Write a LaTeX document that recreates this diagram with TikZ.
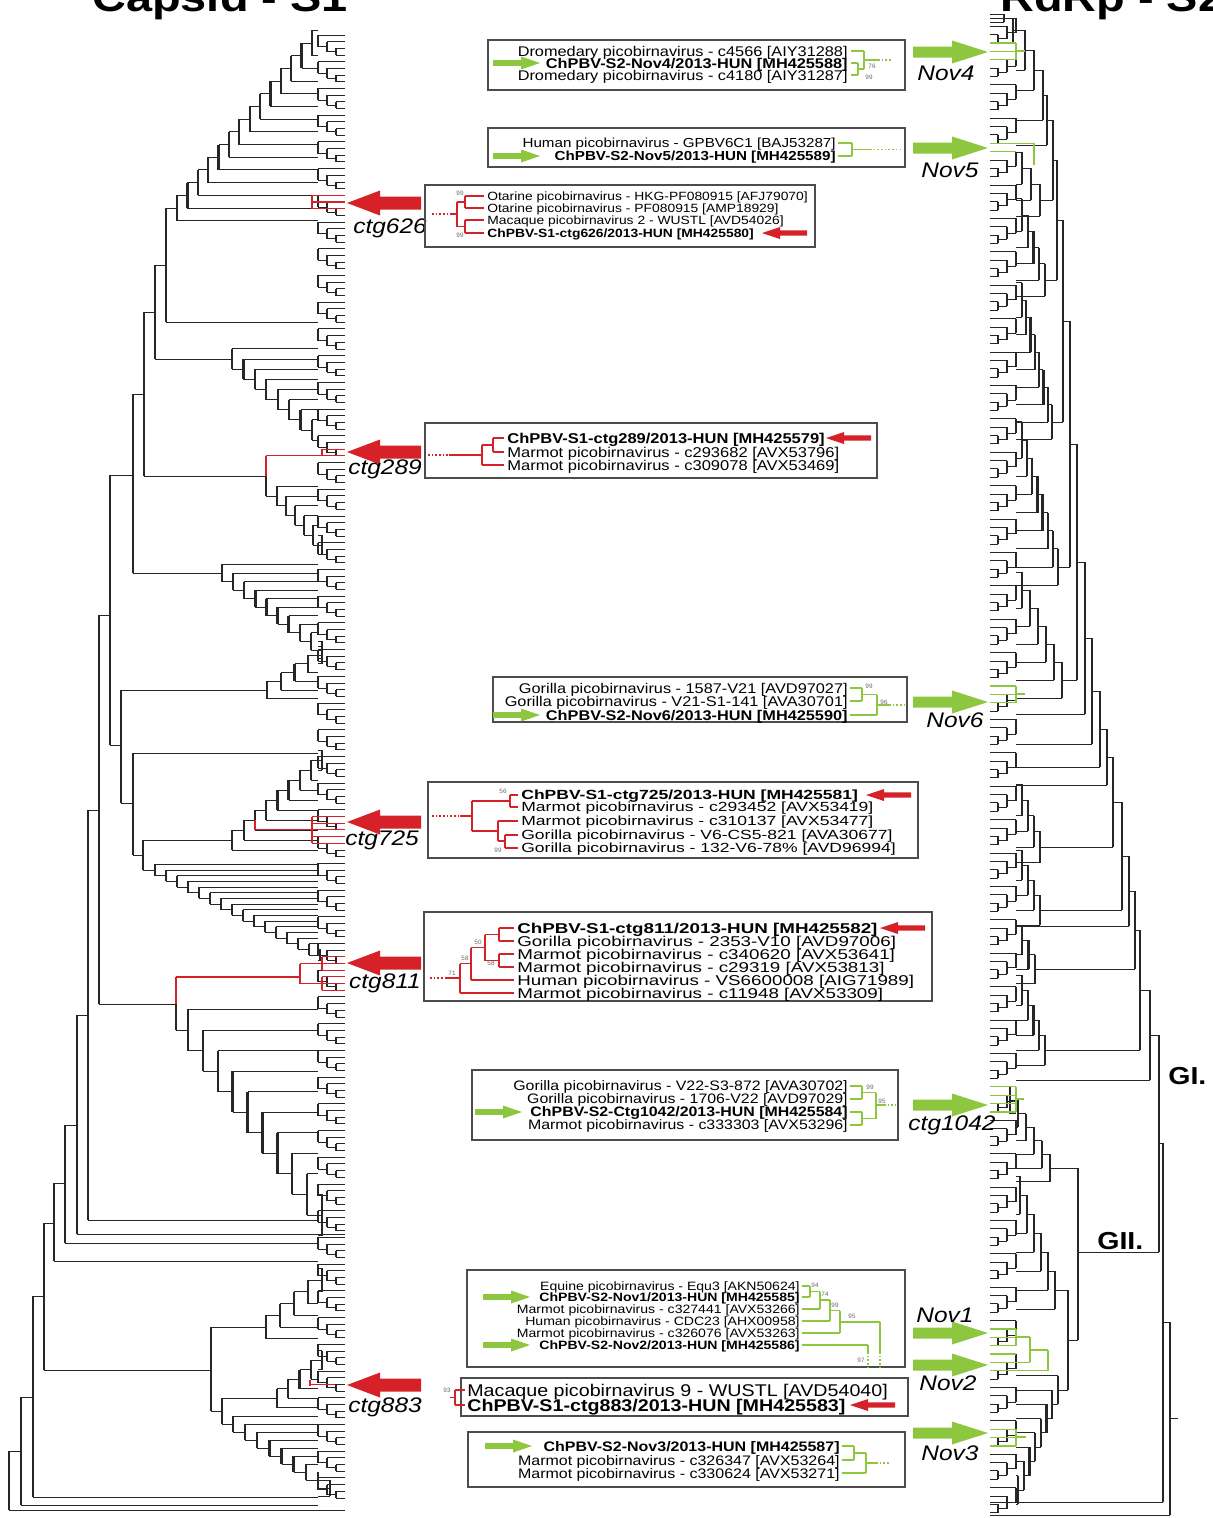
\documentclass[tikz,border=0pt]{standalone}
\usepackage{fontspec}
\setmainfont{Liberation Sans}
\newfontfamily\widesans[FakeStretch=1.16]{Liberation Sans}
\newfontfamily\widersans[FakeStretch=1.32]{Liberation Sans}
\usetikzlibrary{calc}

\definecolor{capsred}{RGB}{213,33,39}
\definecolor{rdgreen}{RGB}{141,198,63}

\tikzset{
  br/.style={line width=0.5pt,black!85},
  bar/.style={line width=1.35pt,black!85},
  rbr/.style={line width=0.6pt,capsred},
  rbar/.style={line width=1.3pt,capsred},
  gbr/.style={line width=0.7pt,rdgreen},
  gbar/.style={line width=1.3pt,rdgreen},
  gdot/.style={line width=0.8pt,rdgreen,dash pattern=on 0.9pt off 1.2pt},
  rdot/.style={line width=0.8pt,capsred,dash pattern=on 0.9pt off 1.2pt},
  box/.style={draw=black!70,line width=0.7pt},
  lab/.style={inner sep=0pt,font=\widesans\fontsize{#1}{10}\selectfont},
  lab/.default=8,
  blab/.style={inner sep=0pt,font=\widesans\bfseries\fontsize{#1}{10}\selectfont},
  blab/.default=8,
  wlab/.style={inner sep=0pt,font=\widersans\fontsize{#1}{10}\selectfont},
  bwlab/.style={inner sep=0pt,font=\widersans\bfseries\fontsize{#1}{10}\selectfont},
  boot/.style={inner sep=0pt,text=black!60,font=\fontsize{3.6}{4}\selectfont},
  tag/.style={inner sep=0pt,font=\widesans\itshape\fontsize{12}{13}\selectfont},
  grp/.style={inner sep=0pt,font=\widesans\bfseries\fontsize{14}{15}\selectfont},
  title/.style={inner sep=0pt,font=\widesans\bfseries\fontsize{23}{24}\selectfont}
}

% staircase clade: root (#1,#2), last node (#3,#4), #5 nodes, side branches end at x=#6
\newcommand\ladder[6]{%
  \pgfmathsetmacro\lqs{(#4-#2)/(#5-1)}%
  \pgfmathsetmacro\lqd{(#3-#1)/(#5-1)}%
  \foreach \i in {1,...,#5}{%
    \pgfmathsetmacro\lqx{#1+(\i-1)*\lqd}%
    \pgfmathsetmacro\lqy{#2+(\i-1)*\lqs}%
    \pgfmathsetmacro\lqa{\lqy-\lqs}%
    \pgfmathsetmacro\lqb{\lqy+\lqs}%
    \pgfmathsetmacro\lqn{\lqx+\lqd}%
    \draw[bar] (\lqx,\lqa) -- (\lqx,\lqb);
    \draw[br] (\lqx,\lqa) -- (#6,\lqa);
    \ifnum\i<#5\relax
      \draw[br] (\lqx,\lqb) -- (\lqn,\lqb);
    \else
      \draw[br] (\lqx,\lqb) -- (#6,\lqb);
    \fi
  }}

\newcommand\redarrow[2]{\fill[capsred] (#1,#2) -- ++(33,-12.5) -- ++(0,6) -- ++(41,0) -- ++(0,13) -- ++(-41,0) -- ++(0,6) -- cycle;}
\newcommand\greenarrow[2]{\fill[rdgreen] (#1,#2) -- ++(-36,-11.5) -- ++(0,6) -- ++(-39,0) -- ++(0,11) -- ++(39,0) -- ++(0,6) -- cycle;}
\newcommand\gsmall[2]{\fill[rdgreen] (#1,#2) -- ++(-19,-6.5) -- ++(0,3.6) -- ++(-28,0) -- ++(0,5.8) -- ++(28,0) -- ++(0,3.6) -- cycle;}
\newcommand\rsmall[2]{\fill[capsred] (#1,#2) -- ++(18,-6) -- ++(0,3.3) -- ++(27,0) -- ++(0,5.4) -- ++(-27,0) -- ++(0,3.3) -- cycle;}

\begin{document}
\begin{tikzpicture}[x=0.02cm,y=-0.02cm]
\useasboundingbox (0,0) rectangle (1213,1518);
\clip (0,0) rectangle (1213,1518);

% titles
\node[title,anchor=base] (tcap) at (220,11) {Capsid - S1};
\node[title,anchor=base west] (trdrp) at (1000,11) {RdRp - S2};

%%%%% capsid tree %%%%%
\foreach \k in {0,...,54}{
  \pgfmathsetmacro\ta{35+26.72*\k}
  \pgfmathsetmacro\tb{\ta+6.68}
  \pgfmathsetmacro\tc{\ta+13.36}
  \pgfmathsetmacro\td{\ta+20.04}
  \pgfmathsetmacro\tm{\ta+16.7}
  \pgfmathsetmacro\tn{(\tb+\tm)/2}
  \draw[br] (318,\ta) -- (345,\ta) (327,\tb) -- (345,\tb) (336,\tc) -- (345,\tc)
    (336,\td) -- (345,\td) (327,\tm) -- (336,\tm) (318,\tn) -- (327,\tn);
  \draw[bar] (336,\tc) -- (336,\td) (327,\tb) -- (327,\tm) (318,\ta) -- (318,\tn);
}
\foreach \x/\a/\b in {166/208/322,155/265/359,144/312/476,133/394/573,110/475/745,
  121/690/803,133/753/855,143/840/870,99/615/1004,88/810/1220,77/1015/1234,
  65/1125/1243,54/1183/1261,44/1223/1370,33/1296/1497,21/1397/1505,9/1451/1510,
  266/456/496,232/830/850,176/977/1030,211/1327/1411,222/1398/1424}
  \draw[bar] (\x,\a) -- (\x,\b);
\foreach \y/\a/\b in {208/166/177,265/155/166,312/144/155,394/133/144,475/110/133,
  615/99/110,810/88/99,1015/77/88,1125/65/77,1183/54/65,1223/44/54,1296/33/44,
  1397/21/33,1451/9/21,745/110/121,803/121/133,855/133/143,
  359/155/232,476/144/266,496/266/277,573/133/222,690/121/267,840/143/232,
  830/232/244,870/143/155,1004/99/176,1030/176/188,1370/44/211,1327/211/266,
  1411/211/222,1398/222/277,1424/222/233}
  \draw[br] (\a,\y) -- (\b,\y);
\foreach \y/\a in {322/166,753/133,850/232,1220/88,1243/65,1261/54,1497/33,1505/21}
  \draw[br] (\a,\y) -- (318,\y);
\foreach \y/\a in {1234/77,1510/9}
  \draw[br] (\a,\y) -- (345,\y);

\ladder{177}{208}{312}{43}{14}{318}
\ladder{232}{359}{312}{430}{8}{318}
\ladder{277}{496}{322}{545}{6}{318}
\ladder{222}{573}{322}{650}{10}{318}
\ladder{267}{690}{322}{655}{5}{318}
\ladder{244}{830}{322}{760}{8}{318}
\ladder{155}{870}{320}{955}{16}{318}
\ladder{188}{1030}{322}{1215}{10}{318}
\ladder{266}{1327}{322}{1280}{5}{318}
\ladder{277}{1398}{322}{1360}{5}{318}
\ladder{233}{1424}{330}{1488}{9}{318}

% red clades in the capsid tree
\draw[rbar] (312,195.3) -- (312,208.7) (266,456) -- (266,476) (255,820) -- (255,830)
  (176,977) -- (176,1004) (300,963.5) -- (300,983.5) (312,816.6) -- (312,843.3)
  (322,956.8) -- (322,970.2) (322,976.8) -- (322,990.2);
\draw[rbr] (266,455.8) -- (345,455.8) (322,449.2) -- (345,449.2) (255,829.9) -- (312,829.9)
  (176,977) -- (300,977) (310,1384.4) -- (335,1384.4) (300,963.5) -- (322,963.5)
  (300,983.5) -- (322,983.5);
\draw[rbar] (322,449.2) -- (322,455.8) (310,1380) -- (310,1386);
\foreach \y in {195.3,202.0,208.7,816.6,823.2,829.9,836.6,843.3}
  \draw[rbr] (312,\y) -- (345,\y);
\foreach \y in {956.8,963.5,970.2,976.8,983.5,990.2}
  \draw[rbr] (322,\y) -- (345,\y);

%%%%% RdRp tree %%%%%
\foreach \k in {0,...,44}{
  \pgfmathsetmacro\ta{18+33.4*\k}
  \pgfmathsetmacro\tb{\ta+8.35}
  \pgfmathsetmacro\tc{\ta+16.7}
  \pgfmathsetmacro\td{\ta+25.05}
  \pgfmathsetmacro\tm{\ta+20.9}
  \pgfmathsetmacro\tn{(\tb+\tm)/2}
  \draw[br] (1016,\ta) -- (990,\ta) (1007,\tb) -- (990,\tb) (998,\tc) -- (990,\tc)
    (998,\td) -- (990,\td) (1007,\tm) -- (998,\tm) (1016,\tn) -- (1007,\tn);
  \draw[bar] (998,\tc) -- (998,\td) (1007,\tb) -- (1007,\tm) (1016,\ta) -- (1016,\tn);
}
\draw[bar] (1004,14) -- (1004,22);
\draw[br] (1004,14) -- (990,14) (1004,22) -- (990,22);
\foreach \x/\a/\b in {1013/18/42,1025/30/70,1034/50/90,1043/70/120,1047/95/145,1053/120/200,
  1057/160/280,1063/220/422,1070/321/567,1077/444/680,1085/562/714,1092/638/744,
  1100/691/767,1107/729/785,1113/757/847,1122/802/910,1129/856/926,1135/891/969,
  1140/930/1050,1150/990/1080,1159/1035/1252,1163/1143/1502,1170/1322/1515,1078/1168/1340,
  1068/1290/1390}
  \draw[bar] (\x,\a) -- (\x,\b);
\foreach \y/\a/\b in {18/1013/1004,30/1025/1013,50/1034/1025,70/1043/1034,95/1047/1043,
  120/1053/1047,160/1057/1053,220/1063/1057,321/1070/1063,444/1077/1070,562/1085/1077,
  638/1092/1085,691/1100/1092,729/1107/1100,757/1113/1107,802/1122/1113,856/1129/1122,
  891/1135/1129,930/1140/1135,990/1150/1140,1035/1159/1150,1143/1163/1159,1322/1170/1163,
  1252/1159/1078,1340/1078/1068,1418/1178/1170,
  200/1053/1040,280/1057/1045,422/1063/1052,567/1070/1058,680/1077/1062,847/1113/1040,
  910/1122/1040,969/1135/1035,1050/1140/1045,1168/1078/1050,1290/1068/1055,1390/1068/1058}
  \draw[br] (\a,\y) -- (\b,\y);
\foreach \y/\a in {42/1013,70/1025,90/1034,120/1043,145/1047,714/1085,744/1092,767/1100,
  785/1107,926/1129,1080/1150}
  \draw[br] (\a,\y) -- (1016,\y);
\foreach \y/\a in {1502/1163,1515/1170}
  \draw[br] (\a,\y) -- (990,\y);
\ladder{1040}{200}{1022}{168}{3}{1016}
\ladder{1045}{280}{1022}{215}{5}{1016}
\ladder{1052}{422}{1022}{300}{8}{1016}
\ladder{1058}{567}{1022}{440}{8}{1016}
\ladder{1062}{680}{1022}{590}{6}{1016}
\ladder{1040}{847}{1022}{800}{4}{1016}
\ladder{1040}{910}{1022}{865}{4}{1016}
\ladder{1035}{969}{1022}{940}{3}{1016}
\ladder{1045}{1050}{1022}{990}{5}{1016}
\ladder{1050}{1168}{1010}{1100}{6}{1016}
\ladder{1055}{1290}{1020}{1195}{6}{1016}
\ladder{1058}{1390}{1018}{1490}{8}{1016}
\node[grp,anchor=west] (gone) at (1168,1076) {GI.};
\node[grp,anchor=west] (gtwo) at (1097,1241) {GII.};

% green clades in the RdRp tree
\foreach \y in {43.1,51.4,59.8,143.3,151.6,686.0,694.4,702.7,1086.8,1095.2,1103.5,1111.9,
  1329.0,1337.3,1345.7,1354.0,1362.4,1370.7,1429.2,1437.5,1445.9}
  \draw[gbr] (990,\y) -- (1016,\y);
\draw[gbar] (1016,43.1) -- (1016,59.8) (1034,143.3) -- (1034,165) (1016,686) -- (1016,702.7)
  (1016,1086.8) -- (1016,1111.9) (1016,1329) -- (1016,1345.7) (1030,1337) -- (1030,1362.4)
  (1048,1350) -- (1048,1370.7) (1016,1429.2) -- (1016,1445.9);
\draw[gbr] (1016,51) -- (1025,51) (1016,143.3) -- (1034,143.3) (1016,694) -- (1025,694)
  (1016,1099) -- (1024,1099) (1016,1337) -- (1030,1337) (1016,1362.4) -- (1030,1362.4)
  (1030,1350) -- (1048,1350) (990,1370.7) -- (1048,1370.7) (1016,1437) -- (1026,1437);

%%%%% arrows and tags %%%%%
\redarrow{347}{203}
\redarrow{347}{452}
\redarrow{347}{822}
\redarrow{347}{963}
\redarrow{347}{1385}
\node[tag] (tc626) at (390,228) {ctg626};
\node[tag] (tc289) at (385,469) {ctg289};
\node[tag] (tc725) at (382,840) {ctg725};
\node[tag] (tc811) at (385,983) {ctg811};
\node[tag] (tc883) at (385,1407) {ctg883};
\greenarrow{988}{52}
\greenarrow{988}{148}
\greenarrow{988}{702}
\greenarrow{988}{1105}
\greenarrow{988}{1333}
\greenarrow{988}{1365}
\greenarrow{988}{1433}
\node[tag] (tn4) at (946,73) {Nov4};
\node[tag] (tn5) at (950,170) {Nov5};
\node[tag] (tn6) at (955,720) {Nov6};
\node[tag] (tc1042) at (952,1125) {ctg1042};
\node[tag] (tn1) at (945,1315) {Nov1};
\node[tag] (tn2) at (948,1383) {Nov2};
\node[tag] (tn3) at (950,1453) {Nov3};

%%%%% inset: Nov4 %%%%%
\draw[box] (488,40) rectangle (905,90);
\node[lab,anchor=base east] (na1) at (848,56) {Dromedary picobirnavirus - c4566 [AIY31288]};
\node[blab,anchor=base east] (na2) at (848,68) {ChPBV-S2-Nov4/2013-HUN [MH425588]};
\node[lab,anchor=base east] (na3) at (848,80) {Dromedary picobirnavirus - c4180 [AIY31287]};
\gsmall{540}{63}
\draw[gbr] (851,51) -- (864,51) (851,63) -- (858,63) (851,75) -- (858,75) (858,69) -- (864,69) (864,60) -- (878,60);
\draw[gbar] (858,63) -- (858,75) (864,51) -- (864,69);
\draw[gdot] (878,60) -- (892,60);
\node[boot] at (872,66) {76};
\node[boot] at (869,77) {99};

%%%%% inset: Nov5 %%%%%
\draw[box] (488,128) rectangle (905,167);
\node[lab=7.45,anchor=base east] (nb1) at (836,147.7) {Human picobirnavirus - GPBV6C1 [BAJ53287]};
\node[blab=7.45,anchor=base east] (nb2) at (836,160.7) {ChPBV-S2-Nov5/2013-HUN [MH425589]};
\gsmall{540}{156}
\draw[gbr] (838,143) -- (852,143) (838,156) -- (852,156) (852,149.5) -- (870,149.5);
\draw[gbar] (852,143) -- (852,156);
\draw[gdot] (870,149.5) -- (900,149.5);

%%%%% inset: ctg626 %%%%%
\draw[box] (425,185) rectangle (815,247);
\node[lab=6.8,anchor=base west] (nc1) at (487,200.3) {Otarine picobirnavirus - HKG-PF080915 [AFJ79070]};
\node[lab=6.8,anchor=base west] (nc2) at (487,212.3) {Otarine picobirnavirus - PF080915 [AMP18929]};
\node[lab=6.8,anchor=base west] (nc3) at (487,224.3) {Macaque picobirnavirus 2 - WUSTL [AVD54026]};
\node[blab=6.8,anchor=base west] (nc4) at (487,237.3) {ChPBV-S1-ctg626/2013-HUN [MH425580]};
\rsmall{762}{233}
\draw[rbr] (465,196) -- (484,196) (465,208) -- (484,208) (465,220) -- (484,220) (465,233) -- (484,233)
  (457,202) -- (465,202) (457,226.5) -- (465,226.5) (450,214) -- (457,214);
\draw[rbar] (465,196) -- (465,208) (465,220) -- (465,233) (457,202) -- (457,226.5);
\draw[rdot] (432,214) -- (450,214);
\node[boot] at (460,193) {99};
\node[boot] at (460,235) {99};

%%%%% inset: ctg289 %%%%%
\draw[box] (425,423) rectangle (877,478);
\node[blab=8.1,anchor=base west] (nd1) at (507,443) {ChPBV-S1-ctg289/2013-HUN [MH425579]};
\node[lab=8.1,anchor=base west] (nd2) at (507,457) {Marmot picobirnavirus - c293682 [AVX53796]};
\node[lab=8.1,anchor=base west] (nd3) at (507,470) {Marmot picobirnavirus - c309078 [AVX53469]};
\rsmall{826}{438}
\draw[rbr] (493,438) -- (504,438) (493,452) -- (504,452) (482,445) -- (493,445) (482,465) -- (504,465)
  (449,455) -- (482,455);
\draw[rbar] (493,438) -- (493,452) (482,445) -- (482,465);
\draw[rdot] (428,455) -- (449,455);

%%%%% inset: Nov6 %%%%%
\draw[box] (493,677) rectangle (907,722);
\node[lab,anchor=base east] (ne1) at (848,693) {Gorilla picobirnavirus - 1587-V21 [AVD97027]};
\node[lab,anchor=base east] (ne2) at (848,706) {Gorilla picobirnavirus - V21-S1-141 [AVA30701]};
\node[blab,anchor=base east] (ne3) at (848,720) {ChPBV-S2-Nov6/2013-HUN [MH425590]};
\gsmall{540}{715}
\draw[gbr] (850,688) -- (862,688) (850,701) -- (862,701) (862,694.5) -- (877,694.5) (850,715) -- (877,715)
  (877,705) -- (889,705);
\draw[gbar] (862,688) -- (862,701) (877,694.5) -- (877,715);
\draw[gdot] (889,705) -- (905,705);
\node[boot] at (869,686) {99};
\node[boot] at (884,702) {96};

%%%%% inset: ctg725 %%%%%
\draw[box] (428,782) rectangle (918,858);
\node[bwlab=7.55,anchor=base west] (nf1) at (521,799.8) {ChPBV-S1-ctg725/2013-HUN [MH425581]};
\node[wlab=7.55,anchor=base west] (nf2) at (521,811.8) {Marmot picobirnavirus - c293452 [AVX53419]};
\node[wlab=7.55,anchor=base west] (nf3) at (521,825.8) {Marmot picobirnavirus - c310137 [AVX53477]};
\node[wlab=7.55,anchor=base west] (nf4) at (521,839.8) {Gorilla picobirnavirus - V6-CS5-821 [AVA30677]};
\node[wlab=7.55,anchor=base west] (nf5) at (521,852.8) {Gorilla picobirnavirus - 132-V6-78\% [AVD96994]};
\rsmall{866}{795}
\draw[rbr] (510,795) -- (518,795) (510,807) -- (518,807) (472,801) -- (510,801) (472,831) -- (498,831)
  (498,821) -- (518,821) (498,841) -- (505,841) (505,835) -- (518,835) (505,848) -- (518,848)
  (460,816) -- (472,816);
\draw[rbar] (510,795) -- (510,807) (472,801) -- (472,831) (498,821) -- (498,841) (505,835) -- (505,848);
\draw[rdot] (432,816) -- (460,816);
\node[boot] at (503,791) {56};
\node[boot] at (498,850) {99};

%%%%% inset: ctg811 %%%%%
\draw[box] (424,912) rectangle (932,1001);
\node[bwlab=8.1,anchor=base west] (ng1) at (517,933.2) {ChPBV-S1-ctg811/2013-HUN [MH425582]};
\node[wlab=8.1,anchor=base west] (ng2) at (517,946.2) {Gorilla picobirnavirus - 2353-V10 [AVD97006]};
\node[wlab=8.1,anchor=base west] (ng3) at (517,959.2) {Marmot picobirnavirus - c340620 [AVX53641]};
\node[wlab=8.1,anchor=base west] (ng4) at (517,972.2) {Marmot picobirnavirus - c29319 [AVX53813]};
\node[wlab=8.1,anchor=base west] (ng5) at (517,985.2) {Human picobirnavirus - VS6600008 [AIG71989]};
\node[wlab=8.1,anchor=base west] (ng6) at (517,998) {Marmot picobirnavirus - c11948 [AVX53309]};
\rsmall{880}{928}
\draw[rbr] (499,928) -- (514,928) (499,941) -- (514,941) (499,954) -- (514,954) (499,967) -- (514,967)
  (485,934.5) -- (499,934.5) (485,960.5) -- (499,960.5) (471,947.5) -- (485,947.5) (471,980) -- (514,980)
  (460,963.7) -- (471,963.7) (460,993) -- (514,993) (446,978) -- (460,978);
\draw[rbar] (499,928) -- (499,941) (499,954) -- (499,967) (485,934.5) -- (485,960.5)
  (471,947.5) -- (471,980) (460,963.7) -- (460,993);
\draw[rdot] (430,978) -- (446,978);
\node[boot] at (452,973) {71};
\node[boot] at (465,958) {58};
\node[boot] at (478,942) {50};
\node[boot] at (491,963) {58};

%%%%% inset: ctg1042 %%%%%
\draw[box] (472,1070) rectangle (898,1140);
\node[lab=7.8,anchor=base east] (nh1) at (848,1090.9) {Gorilla picobirnavirus - V22-S3-872 [AVA30702]};
\node[lab=7.8,anchor=base east] (nh2) at (848,1103.9) {Gorilla picobirnavirus - 1706-V22 [AVD97029]};
\node[blab=7.8,anchor=base east] (nh3) at (848,1116.9) {ChPBV-S2-Ctg1042/2013-HUN [MH425584]};
\node[lab=7.8,anchor=base east] (nh4) at (848,1129.9) {Marmot picobirnavirus - c333303 [AVX53296]};
\gsmall{522}{1112}
\draw[gbr] (850,1086) -- (862,1086) (850,1099) -- (862,1099) (850,1112) -- (862,1112) (850,1125) -- (862,1125)
  (862,1092.5) -- (876,1092.5) (862,1118.5) -- (876,1118.5) (876,1105) -- (884,1105);
\draw[gbar] (862,1086) -- (862,1099) (862,1112) -- (862,1125) (876,1092.5) -- (876,1118.5);
\draw[gdot] (884,1105) -- (896,1105);
\node[boot] at (870,1087) {99};
\node[boot] at (882,1101) {95};

%%%%% inset: Nov1, Nov2 %%%%%
\draw[box] (467,1270) rectangle (905,1367);
\node[lab=6.9,anchor=base east] (ni1) at (800,1290.3) {Equine picobirnavirus - Equ3 [AKN50624]};
\node[blab=6.9,anchor=base east] (ni2) at (800,1301.3) {ChPBV-S2-Nov1/2013-HUN [MH425585]};
\node[lab=6.9,anchor=base east] (ni3) at (800,1313.3) {Marmot picobirnavirus - c327441 [AVX53266]};
\node[lab=6.9,anchor=base east] (ni4) at (800,1325.3) {Human picobirnavirus - CDC23 [AHX00958]};
\node[lab=6.9,anchor=base east] (ni5) at (800,1337.3) {Marmot picobirnavirus - c326076 [AVX53263]};
\node[blab=6.9,anchor=base east] (ni6) at (800,1349.3) {ChPBV-S2-Nov2/2013-HUN [MH425586]};
\gsmall{530}{1297}
\gsmall{530}{1345}
\draw[gbr] (802,1286) -- (810,1286) (802,1297) -- (810,1297) (810,1291.5) -- (820,1291.5) (802,1309) -- (820,1309)
  (820,1300) -- (830,1300) (802,1321) -- (830,1321) (830,1310.5) -- (840,1310.5) (802,1333) -- (840,1333)
  (840,1322) -- (880,1322) (802,1345) -- (868,1345);
\draw[gbar] (810,1286) -- (810,1297) (820,1291.5) -- (820,1309) (830,1300) -- (830,1321) (840,1310.5) -- (840,1333);
\draw[gbr] (880,1322) -- (880,1352) (868,1345) -- (868,1352);
\draw[gdot] (880,1352) -- (880,1367) (868,1352) -- (868,1367);
\node[boot] at (815,1285) {94};
\node[boot] at (825,1294) {74};
\node[boot] at (835,1305) {99};
\node[boot] at (852,1316) {95};
\node[boot] at (861,1360) {97};

%%%%% inset: ctg883 %%%%%
\draw[box] (461,1378) rectangle (908,1416);
\node[lab=9.65,anchor=base west] (nj1) at (467,1396) {Macaque picobirnavirus 9 - WUSTL [AVD54040]};
\node[blab=9.65,anchor=base west] (nj2) at (467,1411) {ChPBV-S1-ctg883/2013-HUN [MH425583]};
\rsmall{850}{1405}
\draw[rbr] (455,1390) -- (465,1390) (455,1405) -- (465,1405) (450,1397.5) -- (455,1397.5);
\draw[rbar] (455,1390) -- (455,1405);
\node[boot] at (447,1390) {93};

%%%%% inset: Nov3 %%%%%
\draw[box] (468,1432) rectangle (905,1487);
\node[blab=7.85,anchor=base east] (nk1) at (840,1451) {ChPBV-S2-Nov3/2013-HUN [MH425587]};
\node[lab=7.85,anchor=base east] (nk2) at (840,1465) {Marmot picobirnavirus - c326347 [AVX53264]};
\node[lab=7.85,anchor=base east] (nk3) at (840,1478) {Marmot picobirnavirus - c330624 [AVX53271]};
\gsmall{532}{1446}
\draw[gbr] (842,1446) -- (854,1446) (842,1460) -- (854,1460) (854,1453) -- (866,1453) (842,1473) -- (866,1473)
  (866,1463) -- (876,1463);
\draw[gbar] (854,1446) -- (854,1460) (866,1453) -- (866,1473);
\draw[gdot] (876,1463) -- (890,1463);

\end{tikzpicture}
\end{document}
